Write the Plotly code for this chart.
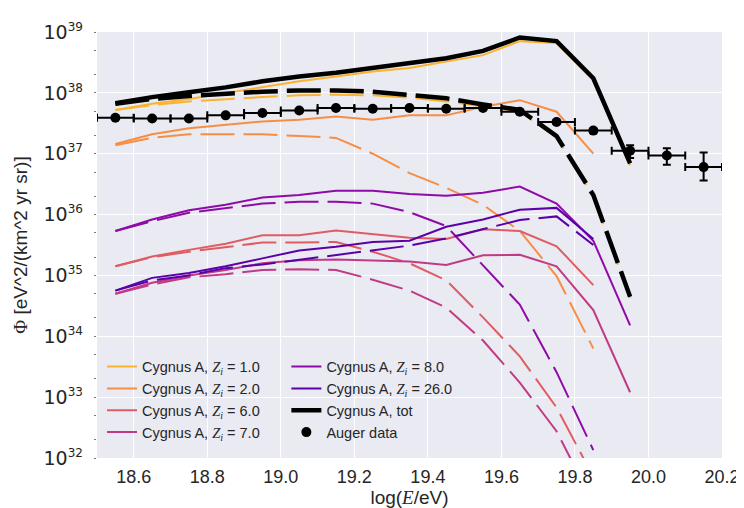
import plotly.graph_objects as go

# ---- data (log10 of flux) ----
energy = [18.55, 18.65, 18.75, 18.85, 18.95, 19.05, 19.15, 19.25, 19.35, 19.45, 19.55, 19.65, 19.75, 19.85, 19.95]

z1_solid = [37.72, 37.82, 37.90, 38.00, 38.09, 38.19, 38.27, 38.35, 38.41, 38.51, 38.62, 38.85, 38.82, 38.22, 36.81]
z1_dash = [37.72, 37.80, 37.86, 37.90, 37.93, 37.96, 37.97, 37.96, 37.92, 37.86, 37.77, 37.69, 37.27, 36.30, 34.63]
z2_solid = [37.16, 37.32, 37.42, 37.48, 37.53, 37.56, 37.61, 37.56, 37.63, 37.63, 37.77, 37.88, 37.69, 37.00, None]
z2_dash = [37.14, 37.26, 37.32, 37.32, 37.32, 37.29, 37.26, 37.00, 36.68, 36.44, 36.16, 35.73, 34.99, 33.80, None]
z6_solid = [35.15, 35.31, 35.42, 35.52, 35.66, 35.66, 35.74, 35.68, 35.62, 35.60, 35.76, 35.73, 35.48, 34.84, None]
z6_dash = [35.15, 35.30, 35.39, 35.46, 35.54, 35.54, 35.55, 35.39, 35.20, 34.92, 34.31, 33.67, 32.83, 31.69, None]
z7_solid = [34.70, 34.88, 35.00, 35.09, 35.20, 35.25, 35.26, 35.25, 35.23, 35.17, 35.33, 35.34, 35.15, 34.43, 33.08]
z7_dash = [34.70, 34.85, 34.97, 35.02, 35.09, 35.10, 35.09, 34.93, 34.75, 34.47, 33.93, 33.24, 32.44, 31.26, None]
z8_solid = [35.73, 35.92, 36.07, 36.16, 36.28, 36.32, 36.39, 36.39, 36.34, 36.31, 36.36, 36.46, 36.18, 35.57, 34.18]
z8_dash = [35.73, 35.89, 36.03, 36.11, 36.18, 36.21, 36.21, 36.18, 36.04, 35.81, 35.17, 34.52, 33.41, 32.13, None]
z26_solid = [34.75, 34.96, 35.04, 35.15, 35.28, 35.41, 35.47, 35.55, 35.57, 35.80, 35.92, 36.08, 36.11, 35.60, None]
z26_dash = [34.75, 34.92, 35.00, 35.12, 35.18, 35.26, 35.33, 35.41, 35.49, 35.61, 35.76, 35.91, 35.97, 35.50, None]
tot_solid = [37.83, 37.93, 38.01, 38.09, 38.19, 38.27, 38.33, 38.41, 38.48, 38.57, 38.69, 38.91, 38.85, 38.24, 36.84]
tot_dash = [37.82, 37.90, 37.95, 37.99, 38.02, 38.04, 38.04, 38.02, 37.97, 37.91, 37.81, 37.72, 37.29, 36.32, 34.65]

auger_energy = [18.55, 18.65, 18.75, 18.85, 18.95, 19.05, 19.15, 19.25, 19.35, 19.45, 19.55, 19.65, 19.75, 19.85, 19.95, 20.05, 20.15]
auger_flux = [37.59, 37.58, 37.58, 37.63, 37.67, 37.71, 37.75, 37.74, 37.75, 37.74, 37.75, 37.69, 37.52, 37.38, 37.05, 36.97, 36.78]
auger_err_up = [0.005, 0.005, 0.005, 0.005, 0.005, 0.006, 0.007, 0.008, 0.01, 0.012, 0.015, 0.02, 0.025, 0.035, 0.09, 0.12, 0.24]
auger_err_dn = [0.005, 0.005, 0.005, 0.005, 0.005, 0.006, 0.007, 0.008, 0.01, 0.012, 0.015, 0.02, 0.025, 0.04, 0.12, 0.15, 0.22]
auger_xerr = [0.05] * 17

x_ticks = [18.6, 18.8, 19.0, 19.2, 19.4, 19.6, 19.8, 20.0, 20.2]
x_ticklabels = ["18.6", "18.8", "19.0", "19.2", "19.4", "19.6", "19.8", "20.0", "20.2"]
y_exponents = [32, 33, 34, 35, 36, 37, 38, 39]

series = [
    ("1.0", "#fbb32f", z1_solid, z1_dash),
    ("2.0", "#f68e45", z2_solid, z2_dash),
    ("6.0", "#e05c63", z6_solid, z6_dash),
    ("7.0", "#c13a84", z7_solid, z7_dash),
    ("8.0", "#8e0ca6", z8_solid, z8_dash),
    ("26.0", "#5a02a8", z26_solid, z26_dash),
]


def lin(vals):
    return [None if v is None else 10.0 ** v for v in vals]


ZI = ("<span style='font-family:Liberation Serif'><i>Z</i><sub><i>i</i></sub></span>")
DASH = "34px,9px"

fig = go.Figure()
for k, (z, col, sol, das) in enumerate(series):
    leg = "legend" if k < 4 else "legend2"
    fig.add_trace(go.Scatter(
        x=energy, y=lin(sol), mode="lines", line=dict(color=col, width=2),
        name=f"Cygnus A, {ZI} = {z}", legend=leg, legendrank=k + 1))
    fig.add_trace(go.Scatter(
        x=energy, y=lin(das), mode="lines", line=dict(color=col, width=2, dash=DASH),
        showlegend=False))

fig.add_trace(go.Scatter(
    x=energy, y=lin(tot_solid), mode="lines", line=dict(color="black", width=4.5),
    name="Cygnus A, tot", legend="legend2", legendrank=10))
fig.add_trace(go.Scatter(
    x=energy, y=lin(tot_dash), mode="lines", line=dict(color="black", width=4.5, dash=DASH),
    showlegend=False))

ay = [10.0 ** v for v in auger_flux]
eplus = [10.0 ** (v + u) - 10.0 ** v for v, u in zip(auger_flux, auger_err_up)]
eminus = [10.0 ** v - 10.0 ** (v - d) for v, d in zip(auger_flux, auger_err_dn)]
fig.add_trace(go.Scatter(
    x=auger_energy, y=ay, mode="markers",
    marker=dict(color="black", size=10),
    error_x=dict(type="data", array=auger_xerr, color="black", thickness=2, width=4),
    error_y=dict(type="data", array=eplus, arrayminus=eminus, symmetric=False,
                 color="black", thickness=2, width=4),
    name="Auger data", legend="legend2", legendrank=11))

fig.update_layout(
    width=744, height=508,
    margin=dict(l=88, r=21, t=18, b=54),
    plot_bgcolor="#EAEAF2", paper_bgcolor="white",
    font=dict(family="Liberation Sans, Arial, sans-serif", color="#262626", size=14),
    legend=dict(x=0.008, y=0.252, xanchor="left", yanchor="top",
                bgcolor="rgba(0,0,0,0)", font=dict(size=14.5), tracegroupgap=0),
    legend2=dict(x=0.303, y=0.252, xanchor="left", yanchor="top",
                 bgcolor="rgba(0,0,0,0)", font=dict(size=14.5), tracegroupgap=0),
)
fig.update_xaxes(
    range=[18.5, 20.2], tickvals=x_ticks, ticktext=x_ticklabels,
    showgrid=True, gridcolor="white", gridwidth=1.3, zeroline=False, showline=False,
    ticks="", tickfont=dict(size=18), ticklabelstandoff=6,
    title=dict(text="log(<span style='font-family:Liberation Serif'><i>E</i></span>/eV)",
               font=dict(size=19), standoff=4),
)
fig.update_yaxes(
    type="log", range=[32, 39],
    tickvals=[10.0 ** e for e in y_exponents],
    ticktext=[f"10<sup><span style='font-size:12px'>{e}</span></sup>" for e in y_exponents],
    showgrid=True, gridcolor="white", gridwidth=1.3, zeroline=False, showline=False,
    ticks="", tickfont=dict(size=19, family="DejaVu Sans"), ticklabelstandoff=13,
    mirror="ticks",
    minor=dict(ticks="outside", ticklen=2, tickcolor="#777", tickwidth=1, showgrid=False),
    title=dict(text="<span style='font-family:Liberation Serif'>Φ</span> [eV^2/(km^2 yr sr)]",
               font=dict(size=19), standoff=10),
)

fig.write_html("out.html")
